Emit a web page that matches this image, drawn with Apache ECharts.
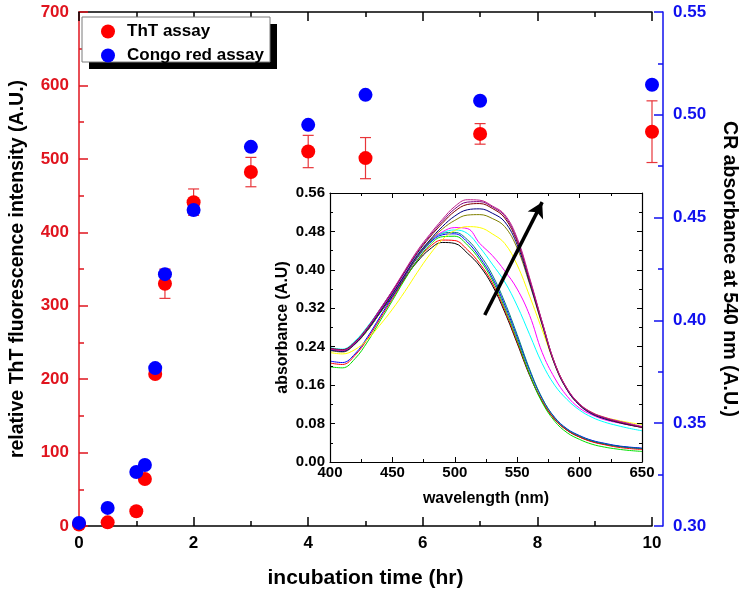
<!DOCTYPE html>
<html>
<head>
<meta charset="utf-8">
<script src="https://cdn.jsdelivr.net/npm/echarts@6/dist/echarts.min.js"></script>
<style>html,body{margin:0;padding:0;background:#fff;}#c{width:747px;height:594px;}</style>
</head>
<body>
<div id="c"></div>
<script>
// ---- main chart data ----
const time = [0, 0.5, 1, 1.15, 1.33, 1.5, 2, 3, 4, 5, 7, 10];
const thtValues = [2, 5, 20, 64, 207, 330, 441, 482, 510, 501, 534, 537];
const thtErrors = [0, 0, 0, 0, 0, 20, 18, 20, 22, 28, 14, 42];
const crValues = [0.3015, 0.3088, 0.3263, 0.3297, 0.3768, 0.4225, 0.4537, 0.4844, 0.4951, 0.5097, 0.5068, 0.5146];
const xTicks = [0, 2, 4, 6, 8, 10];
const leftTicks = [0, 100, 200, 300, 400, 500, 600, 700];
const rightTicks = [0.30, 0.35, 0.40, 0.45, 0.50, 0.55];

// ---- inset spectra ----
const wavelength = [400,410,420,430,440,450,460,470,480,490,500,510,520,530,540,550,560,570,580,590,600,610,620,630,640,650];
const specBlack   = [0.234,0.231,0.247,0.274,0.310,0.345,0.383,0.417,0.443,0.457,0.455,0.435,0.408,0.368,0.312,0.247,0.180,0.126,0.089,0.066,0.052,0.043,0.037,0.033,0.030,0.028];
const specRed     = [0.206,0.203,0.222,0.256,0.298,0.340,0.382,0.420,0.448,0.462,0.461,0.442,0.413,0.373,0.316,0.250,0.182,0.127,0.089,0.066,0.052,0.042,0.036,0.031,0.028,0.026];
const specGreen   = [0.198,0.196,0.215,0.250,0.293,0.336,0.380,0.420,0.452,0.469,0.470,0.452,0.421,0.379,0.321,0.254,0.183,0.124,0.085,0.061,0.047,0.037,0.031,0.027,0.024,0.022];
const specBlue    = [0.210,0.207,0.225,0.260,0.302,0.344,0.386,0.425,0.456,0.473,0.475,0.458,0.426,0.384,0.327,0.260,0.190,0.132,0.093,0.069,0.055,0.045,0.039,0.034,0.031,0.029];
const specDkCyan  = [0.236,0.233,0.249,0.277,0.313,0.350,0.390,0.428,0.458,0.476,0.478,0.463,0.432,0.390,0.333,0.265,0.193,0.133,0.092,0.068,0.054,0.044,0.038,0.033,0.030,0.028];
const specCyan    = [0.238,0.235,0.252,0.282,0.318,0.356,0.395,0.432,0.460,0.477,0.483,0.476,0.447,0.412,0.375,0.325,0.265,0.205,0.160,0.130,0.108,0.093,0.083,0.076,0.070,0.065];
const specMagenta = [0.235,0.232,0.248,0.278,0.314,0.352,0.392,0.430,0.460,0.479,0.488,0.486,0.455,0.430,0.398,0.360,0.305,0.228,0.175,0.137,0.112,0.098,0.088,0.082,0.077,0.073];
const specYellow  = [0.228,0.225,0.234,0.255,0.285,0.318,0.355,0.395,0.432,0.463,0.482,0.490,0.488,0.475,0.455,0.410,0.345,0.275,0.205,0.152,0.120,0.103,0.093,0.087,0.082,0.078];
const specOlive   = [0.232,0.229,0.245,0.274,0.310,0.348,0.388,0.427,0.460,0.485,0.503,0.514,0.515,0.507,0.490,0.445,0.370,0.285,0.203,0.150,0.118,0.100,0.090,0.083,0.077,0.072];
const specNavy    = [0.233,0.230,0.246,0.276,0.312,0.350,0.390,0.430,0.462,0.490,0.512,0.525,0.527,0.518,0.500,0.452,0.373,0.287,0.204,0.150,0.118,0.100,0.090,0.083,0.077,0.072];
const specWine    = [0.237,0.234,0.250,0.280,0.317,0.355,0.396,0.435,0.468,0.497,0.522,0.536,0.538,0.528,0.508,0.458,0.378,0.290,0.206,0.152,0.120,0.102,0.092,0.084,0.078,0.072];
const specPurple  = [0.236,0.233,0.249,0.279,0.317,0.356,0.397,0.437,0.471,0.501,0.527,0.541,0.542,0.531,0.512,0.462,0.380,0.291,0.206,0.152,0.120,0.102,0.092,0.085,0.079,0.073];
const specPink    = [0.235,0.232,0.248,0.279,0.318,0.357,0.399,0.440,0.474,0.505,0.532,0.546,0.545,0.533,0.515,0.466,0.383,0.292,0.207,0.153,0.121,0.103,0.093,0.086,0.080,0.074];
const spectra = [specBlack, specRed, specGreen, specBlue, specDkCyan, specCyan, specMagenta, specYellow, specOlive, specNavy, specWine, specPurple, specPink];
const spectraColors = ['#000000','#ff0000','#00e000','#0000ff','#008080','#00ffff','#ff00ff','#ffff00','#808000','#000080','#800000','#800080','#c0208a'];
const arrowStart = [524, 0.306];
const arrowEnd = [570, 0.541];

const FONT = 'Liberation Sans, Arial, sans-serif';
const chart = echarts.init(document.getElementById('c'), null, {renderer: 'canvas'});

const insetSeries = spectra.map((arr, i) => ({
  type: 'line', xAxisIndex: 2, yAxisIndex: 2, silent: true,
  data: wavelength.map((w, j) => [w, arr[j]]),
  smooth: 0.4, showSymbol: false, symbol: 'none',
  lineStyle: {color: spectraColors[i], width: 1},
  z: 20
}));
insetSeries[0].markLine = {
  silent: true, symbol: ['none', 'arrow'], symbolSize: [13, 15],
  label: {show: false},
  lineStyle: {color: '#000', width: 3.5, type: 'solid'},
  data: [[{coord: arrowStart}, {coord: arrowEnd}]],
  z: 30
};

const option = {
  animation: false,
  backgroundColor: '#fff',
  textStyle: {fontFamily: FONT},
  graphic: [
    {type: 'rect', z: 50, zlevel: 0, shape: {x: 89, y: 24, width: 188, height: 45}, style: {fill: '#000'}},
    {type: 'rect', z: 51, zlevel: 0, shape: {x: 82, y: 17, width: 188, height: 45}, style: {fill: '#fff', stroke: '#7a7a7a', lineWidth: 1}}
  ],
  legend: {
    orient: 'vertical', left: 82, top: 17, z: 60,
    padding: [6, 8, 4, 19], itemGap: 7, itemWidth: 14, itemHeight: 14,
    textStyle: {fontFamily: FONT, fontWeight: 'bold', fontSize: 17, color: '#000', padding: [0, 0, 0, 7]},
    data: [{name: 'ThT assay', icon: 'circle'}, {name: 'Congo red assay', icon: 'circle'}]
  },
  grid: [
    {left: 78, top: 12, right: 89, bottom: 68},
    {left: 330, top: 193, right: 105, bottom: 132, show: true, backgroundColor: '#fff', borderWidth: 0, z: 10}
  ],
  xAxis: [
    {type: 'value', gridIndex: 0, min: 0, max: 10, interval: 2, position: 'bottom',
     name: 'incubation time (hr)', nameLocation: 'middle', nameGap: 42,
     nameTextStyle: {fontFamily: FONT, fontWeight: 'bold', fontSize: 21, color: '#000'},
     axisLine: {onZero: false, lineStyle: {color: '#000', width: 1.5}},
     axisTick: {inside: true, length: 9, lineStyle: {color: '#000', width: 1.5}},
     minorTick: {show: true, splitNumber: 2, length: 5, lineStyle: {color: '#000', width: 1.5}},
     axisLabel: {fontFamily: FONT, fontWeight: 'bold', fontSize: 17, color: '#000', margin: 9},
     splitLine: {show: false}},
    {type: 'value', gridIndex: 0, min: 0, max: 10, interval: 2, position: 'top',
     axisLine: {onZero: false, lineStyle: {color: '#000', width: 1.5}},
     axisTick: {inside: true, length: 9, lineStyle: {color: '#000', width: 1.5}},
     minorTick: {show: true, splitNumber: 2, length: 5, lineStyle: {color: '#000', width: 1.5}},
     axisLabel: {show: false}, splitLine: {show: false}},
    {type: 'value', gridIndex: 1, min: 400, max: 650, interval: 50, position: 'bottom', z: 25,
     name: 'wavelength (nm)', nameLocation: 'middle', nameGap: 29,
     nameTextStyle: {fontFamily: FONT, fontWeight: 'bold', fontSize: 16, color: '#000'},
     axisLine: {onZero: false, lineStyle: {color: '#000', width: 1.2}},
     axisTick: {inside: true, length: 5, lineStyle: {color: '#000'}},
     minorTick: {show: true, splitNumber: 2, length: 3, lineStyle: {color: '#000'}},
     axisLabel: {fontFamily: FONT, fontWeight: 'bold', fontSize: 15, color: '#000', margin: 3},
     splitLine: {show: false}},
    {type: 'value', gridIndex: 1, min: 400, max: 650, interval: 50, position: 'top', z: 25,
     axisLine: {onZero: false, lineStyle: {color: '#000', width: 1.2}},
     axisTick: {inside: true, length: 5, lineStyle: {color: '#000'}},
     minorTick: {show: true, splitNumber: 2, length: 3, lineStyle: {color: '#000'}},
     axisLabel: {show: false}, splitLine: {show: false}}
  ],
  yAxis: [
    {type: 'value', gridIndex: 0, min: 0, max: 700, interval: 100, position: 'left',
     name: 'relative ThT fluorescence intensity (A.U.)', nameLocation: 'middle', nameGap: 51, nameRotate: 90,
     nameTextStyle: {fontFamily: FONT, fontWeight: 'bold', fontSize: 19.5, color: '#000'},
     axisLine: {onZero: false, lineStyle: {color: '#e0141e', width: 1.5}},
     axisTick: {inside: true, length: 9, lineStyle: {color: '#e0141e', width: 1.5}},
     minorTick: {show: true, splitNumber: 2, length: 5, lineStyle: {color: '#e0141e', width: 1.5}},
     axisLabel: {fontFamily: FONT, fontWeight: 'bold', fontSize: 17, color: '#e0141e', margin: 10},
     splitLine: {show: false}},
    {type: 'value', gridIndex: 0, min: 0.30, max: 0.55, interval: 0.05, position: 'right', offset: 11,
     name: 'CR absorbance at 540 nm (A.U.)', nameLocation: 'middle', nameGap: 56, nameRotate: -90,
     nameTextStyle: {fontFamily: FONT, fontWeight: 'bold', fontSize: 19.5, color: '#000'},
     axisLine: {onZero: false, lineStyle: {color: '#1010ee', width: 1.5}},
     axisTick: {inside: true, length: 9, lineStyle: {color: '#1010ee', width: 1.5}},
     minorTick: {show: true, splitNumber: 2, length: 5, lineStyle: {color: '#1010ee', width: 1.5}},
     axisLabel: {fontFamily: FONT, fontWeight: 'bold', fontSize: 17, color: '#1010ee', margin: 10,
                 formatter: v => v.toFixed(2)},
     splitLine: {show: false}},
    {type: 'value', gridIndex: 1, min: 0, max: 0.56, interval: 0.08, position: 'left', z: 25,
     name: 'absorbance (A.U)', nameLocation: 'middle', nameGap: 39, nameRotate: 90,
     nameTextStyle: {fontFamily: FONT, fontWeight: 'bold', fontSize: 16, color: '#000'},
     axisLine: {onZero: false, lineStyle: {color: '#000', width: 1.2}},
     axisTick: {inside: true, length: 5, lineStyle: {color: '#000'}},
     minorTick: {show: true, splitNumber: 2, length: 3, lineStyle: {color: '#000'}},
     axisLabel: {fontFamily: FONT, fontWeight: 'bold', fontSize: 15, color: '#000', margin: 5,
                 formatter: v => v.toFixed(2)},
     splitLine: {show: false}},
    {type: 'value', gridIndex: 1, min: 0, max: 0.56, interval: 0.08, position: 'right', z: 25,
     axisLine: {onZero: false, lineStyle: {color: '#000', width: 1.2}},
     axisTick: {inside: true, length: 5, lineStyle: {color: '#000'}},
     minorTick: {show: true, splitNumber: 2, length: 3, lineStyle: {color: '#000'}},
     axisLabel: {show: false}, splitLine: {show: false}}
  ],
  series: [
    {
      type: 'custom', name: 'ThT error', xAxisIndex: 0, yAxisIndex: 0, silent: true, z: 3,
      data: time.map((t, i) => [t, thtValues[i], thtErrors[i]]),
      renderItem: function (params, api) {
        const x = api.value(0), y = api.value(1), e = api.value(2);
        if (!e) return null;
        const top = api.coord([x, y + e]);
        const bot = api.coord([x, y - e]);
        const hw = 5.5;
        const st = {stroke: '#e8353a', lineWidth: 1.2};
        return {type: 'group', children: [
          {type: 'line', shape: {x1: top[0], y1: top[1], x2: bot[0], y2: bot[1]}, style: st},
          {type: 'line', shape: {x1: top[0] - hw, y1: top[1], x2: top[0] + hw, y2: top[1]}, style: st},
          {type: 'line', shape: {x1: bot[0] - hw, y1: bot[1], x2: bot[0] + hw, y2: bot[1]}, style: st}
        ]};
      }
    },
    {
      type: 'scatter', name: 'ThT assay', xAxisIndex: 0, yAxisIndex: 0, z: 4,
      symbol: 'circle', symbolSize: 14, itemStyle: {color: '#ff0000', opacity: 1},
      data: time.map((t, i) => [t, thtValues[i]])
    },
    {
      type: 'scatter', name: 'Congo red assay', xAxisIndex: 0, yAxisIndex: 1, z: 5,
      symbol: 'circle', symbolSize: 14, itemStyle: {color: '#0000ff', opacity: 1},
      data: time.map((t, i) => [t, crValues[i]])
    }
  ].concat(insetSeries)
};
chart.setOption(option);
</script>
</body>
</html>
